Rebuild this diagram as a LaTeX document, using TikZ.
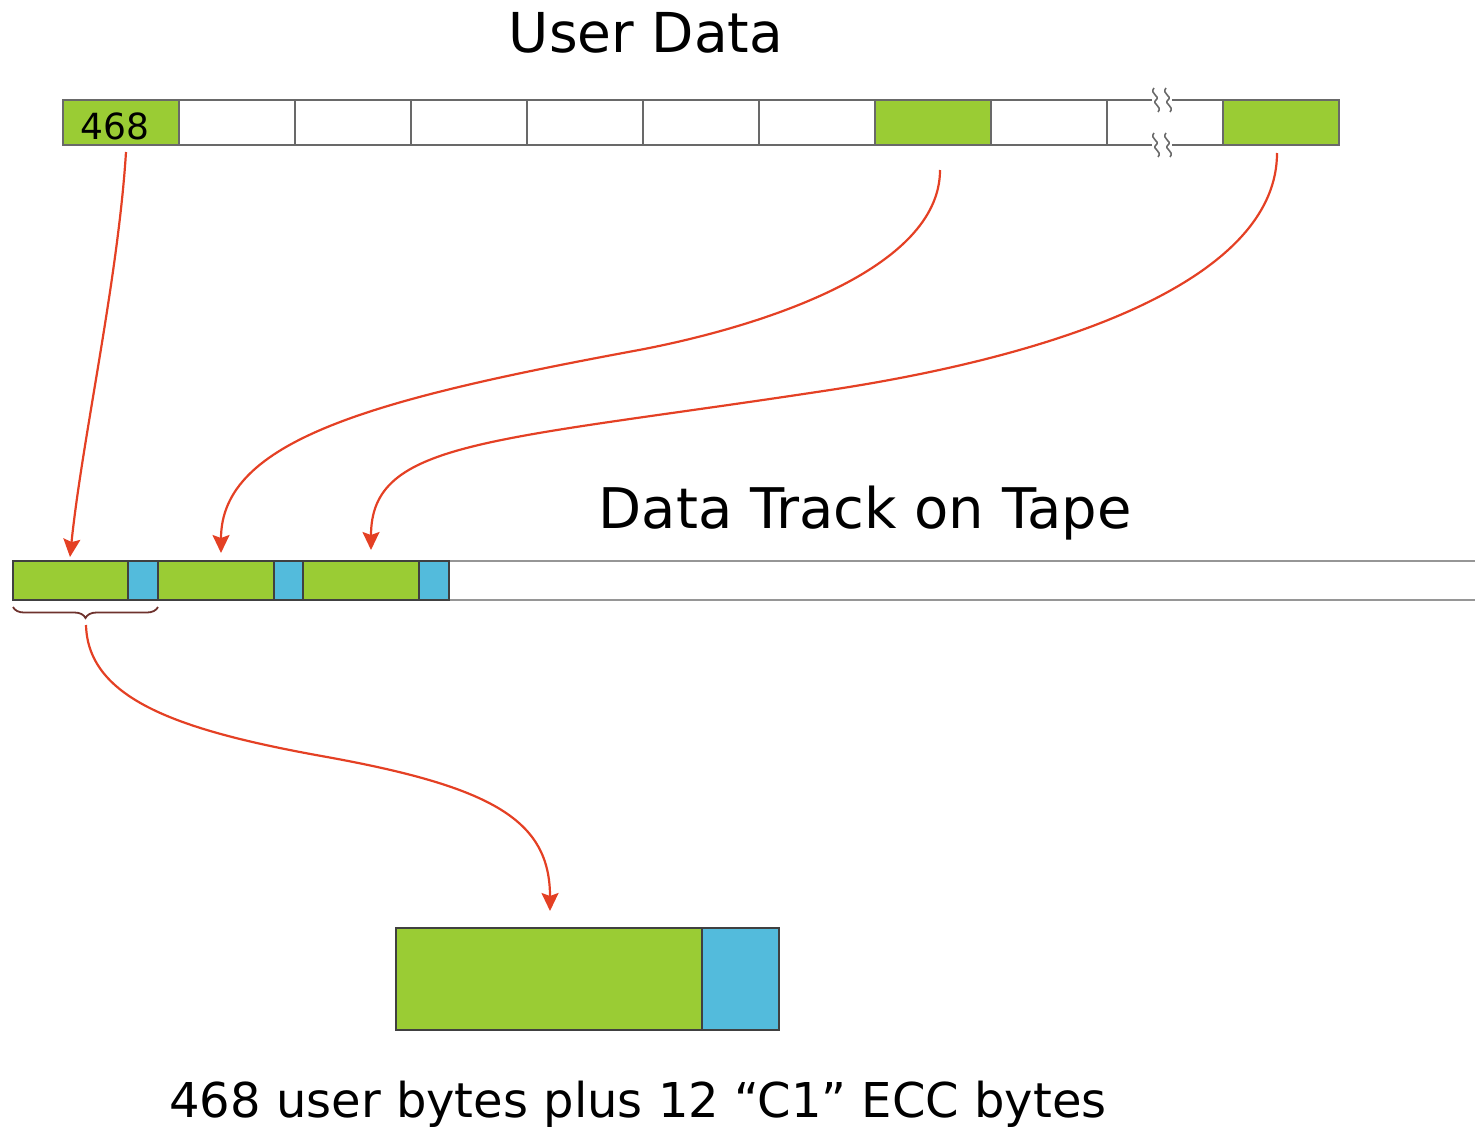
\documentclass[tikz,border=0pt]{standalone}
\usepackage{fontspec}
\setmainfont{DejaVu Sans}
\usetikzlibrary{arrows.meta,decorations.pathreplacing}
\definecolor{bytegreen}{RGB}{154,204,52}
\definecolor{eccblue}{RGB}{83,187,220}
\definecolor{linkred}{RGB}{228,64,36}
\definecolor{cellgray}{RGB}{105,105,105}
\definecolor{trackgray}{RGB}{150,150,150}
\definecolor{bracebrown}{RGB}{110,50,45}
\tikzset{
  cell/.style={draw=cellgray, line width=0.7pt, minimum width=58pt, minimum height=22.5pt, inner sep=0pt, outer sep=0pt, anchor=north west},
  datacell/.style={cell, fill=bytegreen},
  blank/.style={cell, fill=white},
  trk/.style={draw=black!75, line width=0.7pt, minimum height=19.5pt, inner sep=0pt, outer sep=0pt, anchor=north west},
  link/.style={draw=linkred, line width=1.1pt, -{Stealth[length=9pt,width=8.5pt,inset=1.5pt]}},
  title/.style={anchor=base, inner sep=0pt},
  breakmark/.style={cellgray, line width=0.8pt},
}
\begin{document}
\begin{tikzpicture}[x=0.5pt,y=-0.5pt]
\useasboundingbox (0,0) rectangle (1475,1129);

% user data blocks
\node[datacell] (u1) at (63,100) {};
\node[blank] (u2) at (179,100) {};
\node[blank] (u3) at (295,100) {};
\node[blank] (u4) at (411,100) {};
\node[blank] (u5) at (527,100) {};
\node[blank] (u6) at (643,100) {};
\node[blank] (u7) at (759,100) {};
\node[datacell] (u8) at (875,100) {};
\node[blank] (u9) at (991,100) {};
\node[cell, draw=none] (u10) at (1107,100) {};
\node[datacell] (u11) at (1223,100) {};
\node[font=\fontsize{18}{21}\selectfont, anchor=base, inner sep=0pt] (n468) at (115,139) {468};

% broken cell: borders with a gap and break marks
\draw[cellgray, line width=0.7pt] (1107,100) -- (1107,145);
\draw[cellgray, line width=0.7pt] (1107,100) -- (1152,100) (1172,100) -- (1223,100);
\draw[cellgray, line width=0.7pt] (1107,145) -- (1152,145) (1172,145) -- (1223,145);
\foreach \yy in {100,145}{
  \foreach \xx in {1156,1168}{
    \draw[breakmark] (\xx-2,\yy-12) .. controls (\xx-7,\yy-6) and (\xx+5,\yy-4) .. (\xx,\yy)
      .. controls (\xx-5,\yy+4) and (\xx+7,\yy+6) .. (\xx+2,\yy+12);
  }
}

\node[title, font=\fontsize{27.5}{33}\selectfont] (utitle) at (646,53) {User Data};

% data track on tape
\draw[trackgray, line width=1pt] (13,561) -- (1475,561) (13,600) -- (1475,600);
\node[trk, fill=bytegreen, minimum width=57.5pt] (t1) at (13,561) {};
\node[trk, fill=eccblue, minimum width=15pt] (e1) at (128,561) {};
\node[trk, fill=bytegreen, minimum width=58pt] (t2) at (158,561) {};
\node[trk, fill=eccblue, minimum width=14.5pt] (e2) at (274,561) {};
\node[trk, fill=bytegreen, minimum width=58pt] (t3) at (303,561) {};
\node[trk, fill=eccblue, minimum width=15pt] (e3) at (419,561) {};

\node[title, font=\fontsize{28}{34}\selectfont] (ttitle) at (865,528) {Data Track on Tape};

% one C1 codeword, enlarged
\node[trk, fill=bytegreen, minimum width=153pt, minimum height=51pt] (big) at (396,928) {};
\node[trk, fill=eccblue, minimum width=38.5pt, minimum height=51pt] (bigecc) at (702,928) {};

\node[title, font=\fontsize{24}{29}\selectfont] (caption) at (638,1117)
  {468 user bytes plus 12 “C1” ECC bytes};

% brace under the first codeword
\draw[bracebrown, line width=0.9pt, decorate, decoration={brace, mirror, amplitude=5.5pt}]
  (13,607) -- (158,607) coordinate[pos=0.5] (bracemid);

% connectors
\coordinate (s1) at (126,152);
\coordinate (s2) at (940,170);
\coordinate (s3) at (1277,153);
\coordinate (s4) at (86,625);
\coordinate (d1) at (70,557);
\coordinate (d2) at (221,553);
\coordinate (d3) at (371,550);
\coordinate (d4) at (550,911);

\draw[link] (s1) .. controls (118,280) and (82,440) .. (d1);
\draw[link] (s2) .. controls (940,270) and (760,327) .. (639,350)
               .. controls (374,399) and (221,440) .. (d2);
\draw[link] (s3) .. controls (1277,270) and (1092,350) .. (830,390)
               .. controls (489,442) and (371,440) .. (d3);
\draw[link] (s4) .. controls (88,700) and (181,731) .. (327,757)
               .. controls (492,787) and (550,820) .. (d4);
\end{tikzpicture}
\end{document}
